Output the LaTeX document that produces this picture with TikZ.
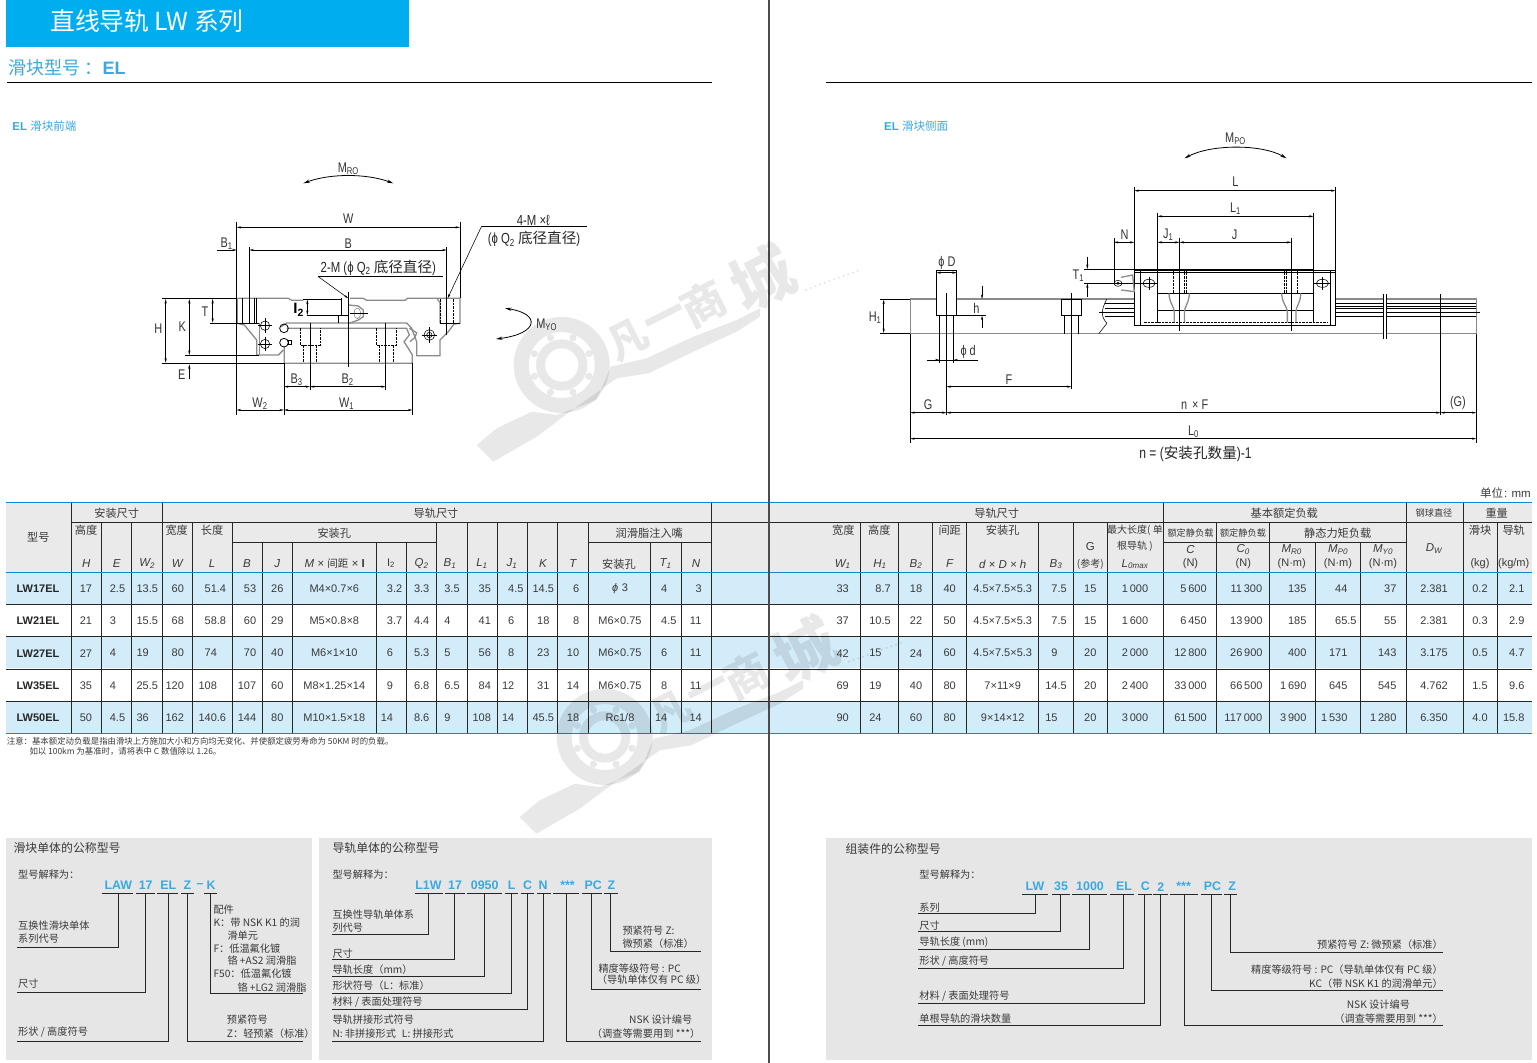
\documentclass[tikz,border=0pt]{standalone}
\usepackage{fontspec}
\setmainfont{Liberation Sans}
\newfontfamily\cjk{Noto Sans CJK SC}
\newfontfamily\narrow[FakeStretch=0.78]{Liberation Sans}
\usetikzlibrary{arrows.meta}
\definecolor{barblue}{HTML}{00AEEF}
\definecolor{codeblue}{HTML}{3BA9E0}
\definecolor{rowblue}{HTML}{D2ECF9}
\definecolor{headgray}{HTML}{EAEAEA}
\definecolor{boxgray}{HTML}{E6E6E6}
\definecolor{inkgray}{HTML}{3A3A3A}
\definecolor{bodygray}{HTML}{8A8A8A}
\newcommand{\zh}[1]{{\cjk #1}}
\newcommand{\ghd}{\phantom{.5}}
\newcommand{\ghn}{\phantom{0}}
\newcommand{\ght}{\phantom{1\thinspace}}
\newcommand{\ts}{\thinspace}
\tikzset{
  every node/.style={inner sep=0pt,text=inkgray},
  cell/.style={font=\fontsize{11}{13}\selectfont},
  headzh/.style={font=\cjk\fontsize{11.2}{13}\selectfont},
  headit/.style={font=\itshape\fontsize{11.5}{13}\selectfont},
  headsm/.style={font=\cjk\fontsize{9.2}{11}\selectfont},
  sect/.style={font=\cjk\fontsize{10.2}{12}\selectfont},
  secttitle/.style={font=\cjk\fontsize{11.9}{13}\selectfont},
  codetxt/.style={font=\bfseries\fontsize{12.4}{14}\selectfont,text=codeblue},
  dimtxt/.style={font=\narrow\fontsize{14}{16}\selectfont,text=black!80},
  dimzh/.style={font=\narrow\fontsize{14.6}{16}\selectfont,text=black!85},
  leader/.style={line width=.8pt,black!85},
  grid/.style={line width=.8pt,black!85},
  bluerule/.style={line width=1pt,cyan!70!blue},
  dimline/.style={line width=.55pt,black,{Stealth[length=4.5pt,width=2.2pt]}-{Stealth[length=4.5pt,width=2.2pt]}},
  arcdim/.style={line width=.8pt,black,{Stealth[length=6.5pt,width=3.2pt]}-{Stealth[length=6.5pt,width=3.2pt]}},
  oneway/.style={line width=.55pt,black,-{Stealth[length=4.5pt,width=2.2pt]}},
  extline/.style={line width=.55pt,black},
  body/.style={line width=1.3pt,bodygray},
  thickhole/.style={line width=1.1pt,black,dash pattern=on 2.5pt off 1pt},
  thinhole/.style={line width=.5pt,black,dash pattern=on 2.5pt off 1pt}
}
\begin{document}
\begin{tikzpicture}[x=1pt,y=-1pt]
\useasboundingbox (0,0) rectangle (1537,1063);

% page heads
\fill[barblue] (6,0) rectangle (409,47);
\node[anchor=west,font=\cjk\fontsize{24.8}{28}\selectfont,text=white] (pagetitle) at (50,21) {直线导轨 LW 系列};
\node[anchor=west,font=\fontsize{18}{20}\selectfont,text=codeblue] (subtitle) at (8.5,68) {\zh{滑块型号 ：}\textbf{EL}};
\draw[line width=.8pt] (7,82.3) -- (712,82.3);
\draw[line width=.8pt] (826,82.3) -- (1532,82.3);
\node[anchor=west,font=\fontsize{11.5}{13}\selectfont,text=codeblue] (frontttl) at (12.3,126) {\textbf{EL} \zh{滑块前端}};
\node[anchor=west,font=\fontsize{11.5}{13}\selectfont,text=codeblue] (sidettl) at (884,126) {\textbf{EL} \zh{滑块侧面}};

% front view
\begin{scope}[shift={(150,150)},x=.33333pt,y=-.33333pt]
  \draw[body] (262,445) -- (415,445) -- (425,451) -- (460,451);
  \draw[body] (600,445) -- (640,445) -- (650,451) -- (765,451) -- (772,445) -- (860,445) -- (930,445) -- (930,520) -- (912,522) -- (895,545) -- (870,570) -- (870,617) -- (800,617) -- (800,575) -- (785,535) -- (770,519) -- (410,519) -- (393,530);
  \draw[body] (862,447) -- (870,458) -- (870,520);
  \draw[body] (262,445) -- (262,520) -- (283,525) -- (320,570) -- (320,615) -- (385,615) -- (400,600);
  \draw[body] (328,520) -- (328,615);
  \draw[body] (403,590) -- (403,640) -- (787,640) -- (787,615) -- (778,600) -- (762,575) -- (778,555) -- (770,535) -- (410,535);
  \draw[body] (778,535) -- (800,548) -- (795,562) -- (780,575);
  \draw[body] (597,465) -- (625,468) -- (640,480) -- (640,500) -- (625,510) -- (597,520);
  \draw[line width=.6pt,bodygray] (622,490) ellipse (10 and 16);
  \draw[line width=.8pt] (402,535) circle (13);
  \draw[line width=.8pt] (402,578) circle (13);
  \draw[extline] (415,572) rectangle (424,584);
  % hole outlines in the rail
  \foreach \hx in {0,229}{
    \draw[thinhole] (450+\hx,535) -- (450+\hx,585) -- (510+\hx,585) -- (510+\hx,535);
    \draw[thinhole] (460+\hx,585) -- (460+\hx,637);
    \draw[thinhole] (500+\hx,585) -- (500+\hx,637);
  }
  % end holes and centre lines
  \draw[line width=1.3pt] (278,445) -- (278,520);
  \draw[extline] (298,290) -- (298,520);
  \draw[extline] (313,445) -- (313,520);
  \draw[extline] (320,445) -- (320,520);
  \draw[thickhole] (872,447) -- (872,520);
  \draw[thickhole] (910,447) -- (910,520);
  \draw[extline] (890,290) -- (890,555);
  \draw[extline] (870,520) -- (930,520);
  \draw[extline] (460,447) -- (575,447);
  \draw[line width=1.3pt] (575,445) -- (575,497);
  \draw[extline] (470,497) -- (595,497);
  \draw[extline] (565,497) -- (565,520);
  \draw[extline] (595,425) -- (595,650);
  \draw[extline] (600,490) -- (655,490);
  \foreach \cx/\cy in {345/527,345/582}{
    \draw[extline] (\cx,\cy) circle (14);
    \draw[extline] (\cx-22,\cy) -- (\cx+22,\cy);
    \draw[extline] (\cx,\cy-22) -- (\cx,\cy+22);
  }
  \draw[extline] (838,555) circle (16);
  \draw[extline] (838,555) circle (8);
  \draw[extline] (815,555) -- (862,555);
  \draw[extline] (838,532) -- (838,578);
  % extension lines
  \draw[extline] (260,215) -- (260,795);
  \draw[extline] (930,215) -- (930,445);
  \draw[extline] (35,445) -- (260,445);
  \draw[extline] (35,640) -- (403,640);
  \draw[extline] (105,617) -- (328,617);
  \draw[extline] (180,520) -- (328,520);
  \draw[extline] (402,640) -- (402,795);
  \draw[extline] (787,640) -- (787,795);
  \draw[extline] (480,520) -- (480,720);
  \draw[extline] (707,520) -- (707,720);
  % dimensions
  \draw[dimline] (260,232) -- (930,232);
  \draw[dimline] (298,300) -- (890,300);
  \draw[oneway] (200,300) -- (260,300);
  \draw[dimline] (47,447) -- (47,638);
  \draw[dimline] (118,447) -- (118,615);
  \draw[dimline] (188,447) -- (188,518);
  \draw[oneway] (118,688) -- (118,643);
  \draw[dimline] (472,449) -- (472,495);
  \draw[dimline] (402,710) -- (480,710);
  \draw[dimline] (480,710) -- (707,710);
  \draw[dimline] (260,780) -- (402,780);
  \draw[dimline] (402,780) -- (787,780);
  \draw[arcdim] (460,100) .. controls (540,70) and (650,70) .. (730,100);
  \draw[arcdim] (1065,475) .. controls (1170,490) and (1170,550) .. (1038,567);
  % leaders
  \draw[oneway] (505,380) -- (595,445);
  \draw[extline] (505,380) -- (880,380);
  \draw[oneway] (995,228) -- (893,445);
  \draw[extline] (995,228) -- (1310,228);
  % labels
  \node[dimtxt] (lbmr) at (595,55) {M\textsubscript{RO}};
  \node[dimtxt] (lbw) at (595,205) {W};
  \node[dimtxt] (lbb) at (595,280) {B};
  \node[dimtxt] (lbbone) at (230,280) {B\textsubscript{1}};
  \node[dimzh] (lbtwom) at (685,354) {2-M (ϕ Q\textsubscript{2} \zh{底径直径})};
  \node[dimzh] (lbfourm) at (1150,212) {4-M ×ℓ};
  \node[dimzh] (lbqtwo) at (1152,268) {(ϕ Q\textsubscript{2} \zh{底径直径})};
  \node[dimtxt] (lbh) at (25,537) {H};
  \node[dimtxt] (lbk) at (97,530) {K};
  \node[dimtxt] (lbt) at (165,485) {T};
  \node[dimtxt] (lbe) at (95,673) {E};
  \node[font=\bfseries\fontsize{15}{16}\selectfont,text=black] (lbltwo) at (446,480) {I\textsubscript{2}};
  \node[dimtxt] (lbbthree) at (440,688) {B\textsubscript{3}};
  \node[dimtxt] (lbbtwo) at (593,688) {B\textsubscript{2}};
  \node[dimtxt] (lbwtwo) at (330,760) {W\textsubscript{2}};
  \node[dimtxt] (lbwone) at (590,760) {W\textsubscript{1}};
  \node[dimtxt] (lbmy) at (1190,525) {M\textsubscript{YO}};
\end{scope}

% side view
\begin{scope}[shift={(860,120)},x=.40816pt,y=-.33333pt]
  % rail
  \draw[body] (123,537) -- (1510,537) -- (1510,641) -- (585,641);
  \draw[body] (123,537) -- (123,641) -- (585,641);
  \draw[extline] (605,537) .. controls (590,570) and (590,590) .. (605,610) -- (585,641);
  \foreach \ry in {550,565,578,590}{
    \draw[extline] (600,\ry) -- (672,\ry);
    \draw[extline] (1165,\ry) -- (1510,\ry);
  }
  \draw[extline] (585,578) -- (600,578);
  \draw[extline] (1510,578) -- (1518,578);
  \draw[extline] (1165,558) -- (1510,558);
  \fill[white] (1283,530) rectangle (1290,650);
  \draw[extline] (1283,522) -- (1283,657);
  \draw[extline] (1290,522) -- (1290,657);
  % carriage
  \fill[white] (672,450) rectangle (1165,615);
  \draw[line width=.8pt] (672,450) rectangle (1165,615);
  \draw[extline] (672,457) -- (1165,457);
  \draw[extline] (550,447) -- (1111,447);
  \draw[extline] (550,490) -- (690,490);
  \draw[extline] (687,450) -- (687,615);
  \draw[extline] (1152,450) -- (1152,615);
  \draw[extline] (729,447) -- (729,610);
  \draw[extline] (1111,447) -- (1111,610);
  \draw[extline] (729,520) -- (1111,520);
  \draw[extline] (729,570) -- (1111,570);
  \foreach \cx in {708,1133}{
    \draw[extline] (\cx,490) ellipse (15 and 12);
    \draw[extline] (\cx-22,490) -- (\cx+22,490);
    \draw[extline] (\cx,470) -- (\cx,510);
  }
  \draw[extline] (1111,490) -- (1155,490);
  \draw[thickhole] (767,447) -- (767,520);
  \draw[thinhole] (795,447) -- (795,520);
  \draw[thinhole] (800,447) -- (800,520);
  \draw[thinhole] (1040,447) -- (1040,520);
  \draw[thinhole] (1045,447) -- (1045,520);
  \draw[thickhole] (1072,447) -- (1072,520);
  \draw[thickhole] (697,607) -- (1143,607);
  \draw[body] (757,520) .. controls (758,550) and (770,560) .. (770,575) -- (770,607);
  \draw[body] (807,520) .. controls (806,550) and (795,560) .. (795,575) -- (795,607);
  \draw[body] (1033,520) .. controls (1034,550) and (1047,560) .. (1047,575) -- (1047,607);
  \draw[body] (1080,520) .. controls (1079,550) and (1068,560) .. (1068,575) -- (1068,607);
  % grease nipple
  \draw[extline] (632,490) ellipse (10 and 9);
  \draw[extline] (632,490) ellipse (4 and 3);
  \draw[body] (640,472) -- (668,465) -- (672,515) -- (640,510);
  % rail holes
  \fill[white] (187,450) rectangle (237,587);
  \draw[line width=.8pt] (187,450) rectangle (237,587);
  \draw[line width=.8pt] (493,537) rectangle (543,587);
  \foreach \hx in {195,229,501,535}{\draw[extline] (\hx,587) -- (\hx,641);}
  \draw[extline] (195,641) -- (195,730);
  \draw[extline] (229,641) -- (229,730);
  \draw[extline] (237,587) -- (308,587);
  % centre and extension lines
  \draw[extline] (212,520) -- (212,885);
  \draw[extline] (518,520) -- (518,808);
  \draw[extline] (783,355) -- (783,632);
  \draw[extline] (1057,355) -- (1057,632);
  \draw[extline] (1422,522) -- (1422,885);
  \draw[extline] (672,200) -- (672,450);
  \draw[extline] (1165,200) -- (1165,450);
  \draw[extline] (729,278) -- (729,447);
  \draw[extline] (1111,278) -- (1111,447);
  \draw[extline] (622,355) -- (622,490);
  \draw[extline] (123,641) -- (123,968);
  \draw[extline] (1510,641) -- (1510,968);
  \draw[extline] (50,537) -- (123,537);
  \draw[extline] (50,641) -- (123,641);
  \draw[extline] (165,720) -- (288,720);
  % dimensions
  \draw[dimline] (672,212) -- (1165,212);
  \draw[dimline] (729,289) -- (1111,289);
  \draw[dimline] (622,367) -- (672,367);
  \draw[dimline] (729,367) -- (783,367);
  \draw[dimline] (783,367) -- (1057,367);
  \draw[dimline] (187,458) -- (237,458);
  \draw[dimline] (58,539) -- (58,639);
  \draw[oneway] (557,410) -- (557,447);
  \draw[oneway] (557,530) -- (557,490);
  \draw[oneway] (299,497) -- (299,537);
  \draw[oneway] (299,625) -- (299,587);
  \draw[oneway] (165,720) -- (195,720);
  \draw[oneway] (288,720) -- (229,720);
  \draw[dimline] (212,800) -- (518,800);
  \draw[dimline] (123,878) -- (212,878);
  \draw[dimline] (212,878) -- (1422,878);
  \draw[dimline] (1422,878) -- (1510,878);
  \draw[dimline] (123,956) -- (1510,956);
  \draw[arcdim] (795,115) .. controls (860,72) and (985,72) .. (1045,115);
  % labels
  \node[dimtxt] (slmp) at (920,55) {M\textsubscript{PO}};
  \node[dimtxt] (sll) at (920,185) {L};
  \node[dimtxt] (sllone) at (920,265) {L\textsubscript{1}};
  \node[dimtxt] (sln) at (648,343) {N};
  \node[dimtxt] (sljone) at (755,345) {J\textsubscript{1}};
  \node[dimtxt] (slj) at (918,343) {J};
  \node[dimtxt] (sltone) at (535,467) {T\textsubscript{1}};
  \node[dimtxt] (slD) at (213,430) {ϕ D};
  \node[dimtxt] (slh) at (285,565) {h};
  \node[dimtxt] (slhone) at (37,592) {H\textsubscript{1}};
  \node[dimtxt] (sld) at (265,695) {ϕ d};
  \node[dimtxt] (slf) at (365,778) {F};
  \node[dimtxt] (slg) at (167,853) {G};
  \node[dimtxt] (slnf) at (820,853) {n \hspace{2pt}× F};
  \node[dimtxt] (slgg) at (1465,850) {(G)};
  \node[dimtxt] (sllo) at (817,935) {L\textsubscript{0}};
  \node[font=\narrow\fontsize{15.5}{17}\selectfont,text=black!85] (slnote) at (822,1002) {n = (\zh{\fontsize{14.6}{17}\selectfont 安装孔数量})-1};
\end{scope}

% table
\node[anchor=east,font=\fontsize{11.5}{13}\selectfont] (unit) at (1531,493.3) {\zh{单位}\hspace{1pt}: mm};
\fill[headgray] (6,502.3) rectangle (1532,572.5);
\foreach \ry in {572.5,636.3,701.3}{\fill[rowblue] (6,\ry) rectangle (1532,\ry+32);}
\foreach \x/\t in {71.7/502.3,162.3/502.3,711.7/502.3,1163.3/502.3,1406.3/502.3,1463.3/502.3,
  101.3/522.3,131.3/522.3,192.7/522.3,232.3/522.3,436.3/522.3,467.3/522.3,497.7/522.3,527.3/522.3,557.3/522.3,588.3/522.3,
  860.3/522.3,898.3/522.3,932.3/522.3,966.3/522.3,1038.3/522.3,1073.3/522.3,1107.3/522.3,1216.3/522.3,1269.3/522.3,1497.3/522.3,
  262.7/542.3,292.3/542.3,376.7/542.3,406/542.3,650.3/542.3,681.7/542.3,1315.3/542.3,1360.3/542.3}{
  \draw[grid] (\x,\t) -- (\x,733.5);
}
\draw[grid] (71.7,522.3) -- (1532,522.3);
\draw[grid] (232.3,542.3) -- (436.3,542.3);
\draw[grid] (588.3,542.3) -- (711.7,542.3);
\draw[grid] (1163.3,542.3) -- (1406.3,542.3);
\foreach \ry in {604.3,636.3,669.3,701.3}{\draw[grid] (6,\ry) -- (1532,\ry);}
\foreach \ry in {502.3,572.5,733.5}{\draw[bluerule] (6,\ry) -- (1532,\ry);}

% table heads
\foreach \x/\y/\t [count=\h] in {38.3/537.7/{型号},116.7/513.3/{安装尺寸},436/513.3/{导轨尺寸},86/530/{高度},176.7/530/{宽度},212/530/{长度},334.3/533/{安装孔},649.3/533/{润滑脂注入嘴},
  619/564/{安装孔},996.7/513/{导轨尺寸},1284.3/513/{基本额定负载},1496.7/513/{重量},843.3/530/{宽度},879.3/530/{高度},949.7/530/{间距},1002.7/530/{安装孔},
  1337.7/533/{静态力矩负载},1480/530/{滑块},1513.7/530/{导轨}}{
  \node[headzh] (hz\h) at (\x,\y) {\t};
}
\foreach \x/\y/\t [count=\h] in {1135/530/{最大长度( 单},1135/546.7/{根导轨 )},1090.3/564/{(参考)}}{
  \node[font=\cjk\fontsize{10}{12}\selectfont] (hn\h) at (\x,\y) {\t};
}
\foreach \x/\y/\t [count=\h] in {1190.5/533/{额定静负载},1243/533/{额定静负载},1434/513/{钢球直径}}{
  \node[headsm] (hs\h) at (\x,\y) {\t};
}
\foreach \x/\y/\t [count=\h] in {86.3/563.3/H,116.7/563.3/E,147.3/563.3/{W\textsubscript{2}},177.3/563.3/W,212/563.3/L,247/563.3/B,277.3/563.3/J,
  421.7/563.3/{Q\textsubscript{2}},450/563.3/{B\textsubscript{1}},482/563.3/{L\textsubscript{1}},512/563.3/{J\textsubscript{1}},543/563.3/K,573/563.3/T,665.7/563.3/{T\textsubscript{1}},696/563.3/N,
  842.7/564/{W\textsubscript{1}},880/564/{H\textsubscript{1}},916/564/{B\textsubscript{2}},949.7/564/F,1056/564/{B\textsubscript{3}},1135/564/{L\textsubscript{0max}},
  1190.5/549.3/C,1243.3/549.3/{C\textsubscript{0}},1291.7/549.3/{M\textsubscript{R0}},1338/549.3/{M\textsubscript{P0}},1383/549.3/{M\textsubscript{Y0}},1434/548.3/{D\textsubscript{W}}}{
  \node[headit] (hi\h) at (\x,\y) {\t};
}
\node[headit] (hmul) at (334.7,563.3) {M × \zh{\upshape\fontsize{10.5}{13}\selectfont 间距} × \textbf{\upshape I}};
\node[cell] (hltwo) at (391,563.3) {I\textsubscript{2}};
\node[headit] (hddh) at (1002.7,564) {d × D × h};
\node[font=\fontsize{11.5}{13}\selectfont] (hg) at (1090.3,547) {G};
\foreach \x/\t [count=\h] in {1190.5/{(N)},1243.3/{(N)},1291.7/{(N·m)},1338/{(N·m)},1383/{(N·m)},1480/{(kg)},1513.7/{(kg/m)}}{
  \node[cell] (hu\h) at (\x,564) {\t};
}

% table body
\foreach \nm [count=\r] in {LW17EL,LW21EL,LW27EL,LW35EL,LW50EL}{
  \node[font=\bfseries\fontsize{11}{13}\selectfont,text=black!85] (name\r) at (38,{588.7+32.25*(\r-1)}) {\nm};
}
\foreach \colx/\vals [count=\c] in {
  86/{17,21,27,35,50},
  117.5/{2.5,3\ghd,4\ghd,4\ghd,4.5},
  147.3/{13.5,15.5,19\ghd,25.5,36\ghd},
  174.7/{\ghn60,\ghn68,\ghn80,120,162},
  212.3/{\ghn51.4,\ghn58.8,\ghn74\ghd,108\ghd,140.6},
  247/{\ghn53,\ghn60,\ghn70,107,144},
  277.3/{26,29,40,60,80},
  334.3/{M4×0.7×6,M5×0.8×8,M6×1×10,M8×1.25×14,M10×1.5×18},
  391.5/{\ghn3.2,\ghn3.7,\ghn6\ghd,\ghn9\ghd,14\ghd},
  421.7/{3.3,4.4,5.3,6.8,8.6},
  452/{3.5,4\ghd,5\ghd,6.5,9\ghd},
  481.7/{\ghn35,\ghn41,\ghn56,\ghn84,108},
  512.8/{\ghn4.5,\ghn6\ghd,\ghn8\ghd,12\ghd,14\ghd},
  543.3/{14.5,18,23,31,45.5},
  573/{\ghn6,\ghn8,10,14,18},
  620/{\textit{ϕ}\ts\ts 3,M6×0.75,M6×0.75,M6×0.75,Rc1/8},
  665.8/{\ghn4\ghd,\ghn4.5,\ghn6\ghd,\ghn8\ghd,14\ghd},
  695.7/{\ghn3,11,11,11,14},
  842.7/{33,37,42,69,90},
  880/{\ghn8.7,10.5,15\ghd,19\ghd,24\ghd},
  916/{18,22,24,40,60},
  949.7/{40,50,60,80,80},
  1002.7/{4.5×7.5×5.3,4.5×7.5×5.3,4.5×7.5×5.3,7×11×9,9×14×12},
  1056/{\ghn7.5,\ghn7.5,\ghn9\ghd,14.5,15\ghd},
  1090.3/{15,15,20,20,20},
  1135/{1\ts 000,1\ts 600,2\ts 000,2\ts 400,3\ts 000},
  1190.5/{\ghn5\ts 600,\ghn6\ts 450,12\ts 800,33\ts 000,61\ts 500},
  1243.3/{\ghn11\ts 300,\ghn13\ts 900,\ghn26\ts 900,\ghn66\ts 500,117\ts 000},
  1293.3/{\ght135,\ght185,\ght400,1\ts 690,3\ts 900},
  1338.8/{\ght\ghn44\ghd,\ght\ghn65.5,\ght171\ghd,\ght645\ghd,1\ts 530\ghd},
  1383.3/{\ght\ghn37,\ght\ghn55,\ght143,\ght545,1\ts 280},
  1434/{2.381,2.381,3.175,4.762,6.350},
  1480/{0.2,0.3,0.5,1.5,4.0},
  1513.7/{\ghn2.1,\ghn2.9,\ghn4.7,\ghn9.6,15.8}}{
  \foreach \v [count=\r] in \vals {
    \node[cell] (v\c-\r) at (\colx,{588.7+32.25*(\r-1)}) {\v};
  }
}
\node[anchor=west,font=\cjk\fontsize{8.4}{10}\selectfont] (noteone) at (6.7,741) {注意：基本额定动负载是指由滑块上方施加大小和方向均无变化、并使额定疲劳寿命为 50KM 时的负载。};
\node[anchor=west,font=\cjk\fontsize{8.4}{10}\selectfont] (notetwo) at (29.3,751.7) {如以 100km 为基准时，请将表中 C 数值除以 1.26。};

% nominal number panels
\fill[boxgray] (6,838.3) rectangle (312,1060);
\fill[boxgray] (319,838.3) rectangle (712,1060);
\fill[boxgray] (826,838.3) rectangle (1532,1060);

% carriage panel
\node[secttitle,anchor=west] (catitle) at (13.3,848.3) {滑块单体的公称型号};
\node[sect,anchor=west] (caread) at (18,874.3) {型号解释为：};
\foreach \x/\t [count=\h] in {118.3/LAW,145.7/17,168.3/EL,187.3/Z,200/–,211/K}{
  \node[codetxt] (cac\h) at (\x,885.7) {\t};
}
\foreach \a/\b in {101.7/133.3,136/155,157/178.3,181/194,204.3/216.7}{\draw[leader] (\a,893.3) -- (\b,893.3);}
\foreach \x/\y/\e in {118.3/947.3/16.7,145.7/992.3/16.7,168.3/1041.3/16.7,187.3/1041.3/302.7,210.3/993.3/302.7}{
  \draw[leader] (\x,893.3) |- (\e,\y);
}
\foreach \x/\y/\t [count=\h] in {18/926/{互换性滑块单体},18/939/{系列代号},18/983.3/{尺寸},18/1032.3/{形状 / 高度符号},
  213.3/910/{配件},213.3/922.3/{K：带 NSK K1 的润},227.3/935.7/{滑单元},213.3/948.3/{F：低温氟化镀},227.3/961/{铬 +AS2 润滑脂},
  213.3/974/{F50：低温氟化镀},237.3/987.3/{铬 +LG2 润滑脂},226.7/1020/{预紧符号},226.7/1033.3/{Z：轻预紧（标准）}}{
  \node[sect,anchor=west] (cat\h) at (\x,\y) {\t};
}

% rail panel
\node[secttitle,anchor=west] (ratitle) at (332.3,848.3) {导轨单体的公称型号};
\node[sect,anchor=west] (raread) at (332.3,874.3) {型号解释为：};
\foreach \x/\t [count=\h] in {428.5/L1W,455/17,484.7/0950,511.7/L,527.5/C,543.2/N,567.5/***,593.3/PC,611.3/Z}{
  \node[codetxt] (rac\h) at (\x,885.7) {\t};
}
\foreach \a/\b in {415/442.7,445/465,467.3/502.3,505/517.7,521/534,537/550.7,553/579,581.7/601.7,604/617.7}{\draw[leader] (\a,893.3) -- (\b,893.3);}
\foreach \x/\y/\e in {428.3/934.3/331.7,454.3/959.3/331.7,484.3/976.3/331.7,511.7/993.3/331.7,527.7/1009.3/331.7,543.7/1041.3/331.7,566.7/1041.3/701,591.3/989.3/701,610.3/951.7/701}{
  \draw[leader] (\x,893.3) |- (\e,\y);
}
\foreach \x/\y/\t [count=\h] in {332.3/914.3/{互换性导轨单体系},332.3/927.7/{列代号},332.3/953.3/{尺寸},332.3/969.3/{导轨长度（mm）},332.3/985.7/{形状符号（L：标准）},
  332.3/1002.3/{材料 / 表面处理符号},332.3/1020/{导轨拼接形式符号},332.3/1033.3/{N: 非拼接形式\hspace{6pt}L: 拼接形式},
  622.3/930.7/{预紧符号 Z:},622.3/943.3/{微预紧（标准）},598.3/968.3/{精度等级符号 : PC},596.7/980/{（导轨单体仅有 PC 级）},629/1020/{NSK 设计编号},591.7/1033.3/{（调查等需要用到 ***）}}{
  \node[sect,anchor=west] (rat\h) at (\x,\y) {\t};
}

% assembly panel
\node[secttitle,anchor=west] (astitle) at (845.3,848.7) {组装件的公称型号};
\node[sect,anchor=west] (asread) at (919.2,874.3) {型号解释为：};
\foreach \x/\t [count=\h] in {1034.9/LW,1061/35,1090/1000,1124/EL,1145.4/C,1160.7/2,1183.6/***,1212.5/PC,1232.2/Z}{
  \node[codetxt] (asc\h) at (\x,886.7) {\t};
}
\foreach \a/\b in {1022/1048,1051.8/1069.5,1071.9/1107.2,1110.4/1134.1,1138.2/1152.2,1153.4/1167.5,1169.9/1198,1200.8/1221.7,1224.1/1237}{\draw[leader] (\a,894.3) -- (\b,894.3);}
\foreach \x/\y/\e in {1035.7/913.3/918,1060.6/931.3/918,1089.5/949.3/918,1123.7/968.3/918,1144.6/1003.3/918,1160.7/1025.3/918,1184.4/1025.3/1443,1211.3/990.3/1443,1230.6/952.3/1443}{
  \draw[leader] (\x,894.3) |- (\e,\y);
}
\foreach \y/\t [count=\h] in {907.3/{系列},925.3/{尺寸},941.7/{导轨长度 (mm)},961.3/{形状 / 高度符号},996.3/{材料 / 表面处理符号},1018.3/{单根导轨的滑块数量}}{
  \node[sect,anchor=west] (asl\h) at (919.2,\y) {\t};
}
\foreach \y/\t [count=\h] in {944.3/{预紧符号 Z: 微预紧（标准）},970/{精度等级符号 : PC（导轨单体仅有 PC 级）},983.3/{KC（带 NSK K1 的润滑单元）},1018.3/{（调查等需要用到 ***）}}{
  \node[sect,anchor=east] (asr\h) at (1443,\y) {\t};
}
\node[sect] (asr5) at (1378.4,1005) {NSK 设计编号};

% centre fold
\draw[line width=2pt,black!70] (769,0) -- (769,1063);

% watermarks
\foreach \wx/\wy [count=\w] in {0/0,43/372}{
\begin{scope}[shift={(\wx,\wy)}]
  \fill[black,opacity=.09,even odd rule] (561.7,365) circle (48) circle (33) circle (25.7) circle (16.7);
  \foreach \ang in {22.5,67.5,...,360}{
    \fill[black,opacity=.09] (561.7,365) ++(\ang:29.5) circle (3.6);
  }
  \fill[black,opacity=.09] (476.7,445) -- (496.7,428.3) -- (531.7,411.7) -- (556.7,415) -- (596.7,400) -- (610.7,366.7) -- (646.7,358.3) -- (693.3,336.7) -- (736.7,320) -- (760,308.3) -- (760,316.7) -- (736.7,331.7) -- (693.3,351.7) -- (648.3,373.3) -- (616.7,378.3) -- (576.7,406.7) -- (536.7,436.7) -- (493.3,461.7) -- cycle;
  \draw[black,opacity=.09,line width=1.6pt,dash pattern=on 2pt off 3pt] (805,290) -- (860,270);
  \node[rotate=27,font=\cjk\bfseries\fontsize{40}{44}\selectfont,text=black,opacity=.09] (wmfan\w) at (628,340) {凡};
  \node[rotate=27,font=\cjk\bfseries\fontsize{42}{46}\selectfont,text=black,opacity=.09] (wmyi\w) at (667,321) {一};
  \node[rotate=27,font=\cjk\bfseries\fontsize{44}{48}\selectfont,text=black,opacity=.09] (wmshang\w) at (703,303) {商};
  \node[rotate=27,font=\cjk\bfseries\fontsize{62}{66}\selectfont,text=black,opacity=.09] (wmcheng\w) at (762,278) {城};
\end{scope}
}
\end{tikzpicture}
\end{document}
